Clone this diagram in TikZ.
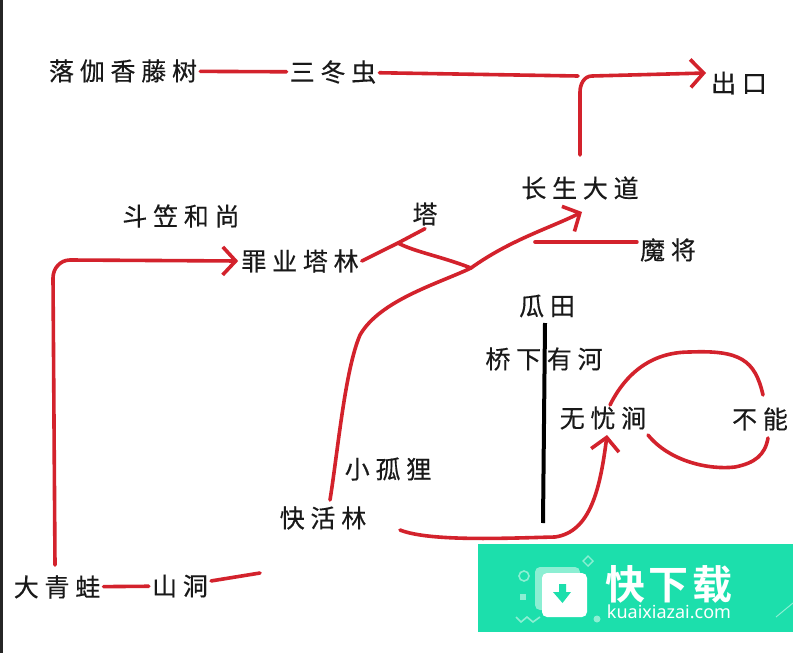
\documentclass[tikz,border=0pt]{standalone}
\usepackage{fontspec}
\setmainfont{Noto Sans}
\newfontfamily\cjk[LetterSpace=23,FakeBold=0.35]{Noto Sans CJK SC}
\newfontfamily\cjklogo[LetterSpace=8]{Noto Sans CJK SC Bold}
\usetikzlibrary{arrows.meta}
\definecolor{inkred}{HTML}{D3222C}
\definecolor{logogreen}{HTML}{1CDFAC}
\definecolor{logopale}{HTML}{8CEFD3}
\tikzset{
	place/.style={font=\cjk\fontsize{25}{25}\selectfont,text=black!90,inner sep=3pt},
	redline/.style={draw=inkred,line width=3.6pt,line cap=round,line join=round},
	redarrow/.style={redline,-{Straight Barb[length=13pt,width=28pt,line width=3.6pt]}}
}
\begin{document}
\begin{tikzpicture}[x=1pt,y=-1pt]
\useasboundingbox (0,0) rectangle (800,653);
\fill[white] (0,0) rectangle (800,653);
\fill[black!85] (0,0) rectangle (2.5,653);
\node[place] (luojia) at (123,71) {落伽香藤树};
\node[place] (sandong) at (333,72) {三冬虫};
\node[place] (chukou) at (739,83) {出口};
\node[place] (changsheng) at (580,188) {长生大道};
\node[place] (ta) at (425,214) {塔};
\node[place] (mojiang) at (668,250) {魔将};
\node[place] (douli) at (181,216) {斗笠和尚};
\node[place] (zuiye) at (300,261) {罪业塔林};
\node[place] (guatian) at (547,306) {瓜田};
\node[place] (qiaoxia) at (544,359) {桥下有河};
\node[place] (wuyou) at (603,418) {无忧涧};
\node[place] (buneng) at (760,419) {不能};
\node[place] (huli) at (388,469) {小孤狸};
\node[place] (kuaihuo) at (323,518) {快活林};
\node[place] (qingwa) at (57,587) {大青蛙};
\node[place] (shandong) at (180,586) {山洞};
\coordinate (forkta) at (398,243);
\coordinate (forkroad) at (471,268);
\coordinate (forkmo) at (535,242);
\coordinate (bendtop) at (578,76);
\coordinate (bendstart) at (580,155);
\coordinate (exittip) at (706,73);
\coordinate (caveend) at (260,573);
\coordinate (roadtip) at (582,212);
\coordinate (frogstart) at (55,565);
\coordinate (happystart) at (330,500);
\coordinate (happyout) at (400,530);
\coordinate (gorgetip) at (607,435);
\coordinate (loopstart) at (610,405);
\coordinate (loopend) at (763,395);
\coordinate (lowstart) at (648,435);
\coordinate (lowend) at (768,438);
\coordinate (fieldtop) at (545,323);
\coordinate (fieldend) at (543,523);
\draw[redline] (luojia) -- (sandong);
\draw[redline] (sandong) -- (bendtop);
\draw[redarrow] (bendstart) -- (580,92) to[out=90,in=180] (592,76) -- (exittip);
\draw[redline] (zuiye.east) -- (forkta) -- (ta.south);
\draw[redline] (forkta) .. controls (415,252) and (440,256) .. (forkroad);
\draw[redarrow] (happystart) .. controls (338,450) and (345,370) .. (360,335) .. controls (380,300) and (440,283) .. (forkroad) .. controls (510,240) and (550,228) .. (roadtip);
\draw[redline] (forkmo) -- (forkmo -| mojiang.west);
\draw[redarrow] (frogstart) -- (53,278) to[out=90,in=180] (70,260) -- (zuiye.west);
\draw[redline] (qingwa) -- (shandong);
\draw[redline] (shandong) -- (caveend);
\draw[redarrow] (happyout) .. controls (430,542) and (510,538) .. (555,537) .. controls (590,532) and (600,490) .. (gorgetip);
\draw[redline] (loopstart) .. controls (625,375) and (650,352) .. (690,352) .. controls (740,350) and (755,360) .. (loopend);
\draw[redline] (lowstart) .. controls (670,462) and (710,470) .. (735,467) .. controls (755,463) and (765,455) .. (lowend);
\draw[black,line width=4pt] (fieldtop) -- (fieldend);
\fill[logogreen] (478,544) rectangle (793,632);
\draw[logopale,line width=1.6pt] (524,576) circle (5);
\fill[logopale] (520,594) rectangle (526,600);
\draw[logopale,line width=1.6pt] (516,617) -- (521,622) -- (527,617) -- (533,622) -- (540,617);
\draw[logopale,line width=1.4pt] (588,556) -- (593,561) -- (588,566) -- (583,561) -- cycle;
\fill[logopale] (597,619) circle (3.5);
\fill[logopale,rounded corners=5pt] (535,567) rectangle (580,610);
\fill[white,rounded corners=5pt] (542,573) rectangle (587,617);
\fill[logogreen] (559,584) rectangle (566,592) -- (571,592) -- (562.5,603) -- (553,592) -- (559,592);
\draw[logopale,line width=1pt] (776,617) -- (793,603);
\node[font=\cjklogo\fontsize{40}{40}\selectfont,text=white,inner sep=0pt] (logotext) at (669,584) {快下载};
\node[font=\fontsize{18}{18}\selectfont,text=white,inner sep=0pt] (logourl) at (669,612) {kuaixiazai.com};
\end{tikzpicture}
\end{document}
